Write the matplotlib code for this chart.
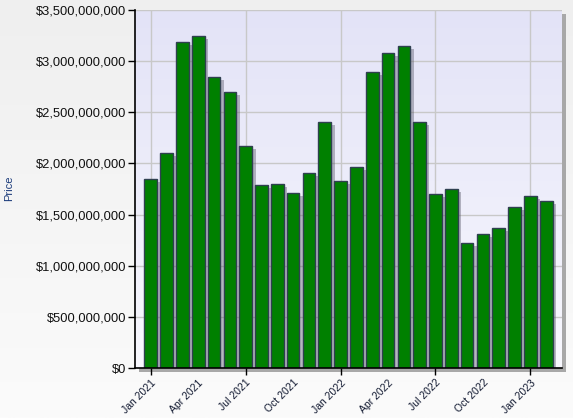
import matplotlib
matplotlib.use("Agg")
import matplotlib.pyplot as plt
import matplotlib.patheffects as pe
from matplotlib.ticker import FuncFormatter
from matplotlib.colors import LinearSegmentedColormap
import numpy as np

months = ["Jan 2021", "Feb 2021", "Mar 2021", "Apr 2021", "May 2021", "Jun 2021",
          "Jul 2021", "Aug 2021", "Sep 2021", "Oct 2021", "Nov 2021", "Dec 2021",
          "Jan 2022", "Feb 2022", "Mar 2022", "Apr 2022", "May 2022", "Jun 2022",
          "Jul 2022", "Aug 2022", "Sep 2022", "Oct 2022", "Nov 2022", "Dec 2022",
          "Jan 2023", "Feb 2023"]
prices = [1.848e9, 2.099e9, 3.184e9, 3.243e9, 2.842e9, 2.695e9,
          2.170e9, 1.789e9, 1.799e9, 1.711e9, 1.906e9, 2.405e9,
          1.830e9, 1.965e9, 2.894e9, 3.080e9, 3.148e9, 2.405e9,
          1.700e9, 1.750e9, 1.222e9, 1.310e9, 1.369e9, 1.574e9,
          1.682e9, 1.633e9]
tick_labels = ["Jan 2021", "Apr 2021", "Jul 2021", "Oct 2021", "Jan 2022",
               "Apr 2022", "Jul 2022", "Oct 2022", "Jan 2023"]
y_ticks = [0, 5e8, 1e9, 1.5e9, 2e9, 2.5e9, 3e9, 3.5e9]

plt.rcParams['font.family'] = ['Liberation Sans', 'DejaVu Sans']

W, H = 573, 418
fig = plt.figure(figsize=(W / 100, H / 100), dpi=100)

# figure background gradient (darker at top)
grad = np.linspace(0, 1, 256).reshape(-1, 1)
bg = fig.add_axes([0, 0, 1, 1], zorder=-10)
cm_fig = LinearSegmentedColormap.from_list("f", ["#efefef", "#fbfbfb"])
bg.imshow(grad, aspect='auto', cmap=cm_fig, extent=[0, 1, 0, 1], origin='upper')
bg.set_xlim(0, 1)
bg.set_ylim(0, 1)
bg.axis('off')

left, right = 135 / W, 562 / W
bottom, top = 1 - 368 / H, 1 - 10 / H
ax = fig.add_axes([left, bottom, right - left, top - bottom])

# plot area shadow
shadow = plt.Rectangle((left + 4 / W, bottom - 4 / H), right - left, top - bottom,
                       transform=fig.transFigure, facecolor="#a8a8a8", edgecolor='none',
                       zorder=-5)
fig.patches.append(shadow)

cm_ax = LinearSegmentedColormap.from_list("a", ["#e3e3f7", "#f8f8fe"])
ax.imshow(grad, aspect='auto', cmap=cm_ax, extent=[0, 1, 0, 1], origin='upper',
          transform=ax.transAxes, zorder=0)

x = np.arange(len(months))
bars = ax.bar(x, prices, width=0.8, color="#008000", edgecolor="#2f4050",
              linewidth=1.0, zorder=3)
for b in bars:
    b.set_path_effects([pe.SimplePatchShadow(offset=(2.5, -2), shadow_rgbFace="#555566",
                                             alpha=0.4), pe.Normal()])

ax.set_xlim(-1, 26)
ax.set_ylim(0, 3.5e9)
ax.set_yticks(y_ticks)
ax.yaxis.set_major_formatter(FuncFormatter(lambda v, p: "${:,.0f}".format(v)))

major_pos = [months.index(l) for l in tick_labels[0::2]]
minor_pos = [months.index(l) for l in tick_labels[1::2]]
ax.set_xticks(major_pos, labels=tick_labels[0::2])
ax.set_xticks(minor_pos, labels=tick_labels[1::2], minor=True)
for lbl in ax.get_xticklabels(minor=False) + ax.get_xticklabels(minor=True):
    lbl.set_rotation(45)
    lbl.set_ha('right')
    lbl.set_rotation_mode('anchor')
    lbl.set_fontsize(7.5)
    lbl.set_color("#101830")
ax.tick_params(axis='x', which='major', length=5, width=1, color='black', pad=2)
ax.tick_params(axis='x', which='minor', length=0, pad=7)
ax.tick_params(axis='y', length=5, width=1, color='black', labelsize=9.3,
               labelcolor="#101010", pad=1.5)

ax.grid(True, which='major', color="#c8c8c8", linewidth=1.0, zorder=1)
ax.set_axisbelow(True)

for s in ['top', 'right']:
    ax.spines[s].set_visible(False)
for s in ['left', 'bottom']:
    ax.spines[s].set_color('black')
    ax.spines[s].set_linewidth(1.2)
    ax.spines[s].set_zorder(5)

fig.text(9 / W, 1 - 188 / H, "Price", rotation=90, ha='center', va='center',
         fontsize=8, color="#1a3a7a")

fig.savefig("out.png", dpi=100)
